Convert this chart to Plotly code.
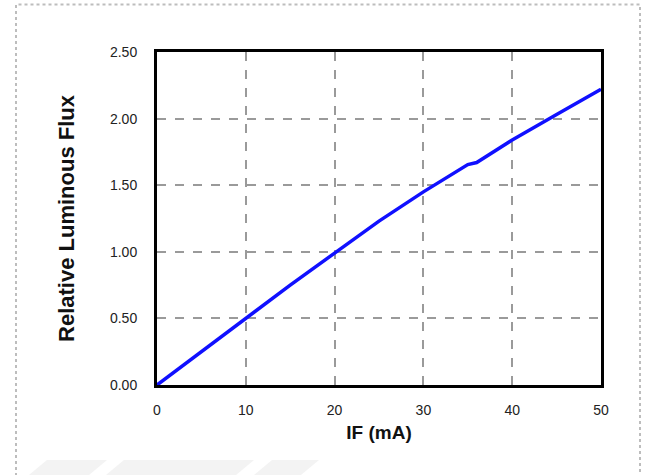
import plotly.graph_objects as go

# Forward current (mA) vs relative luminous flux
if_ma = [0, 5, 10, 15, 20, 25, 30, 35, 36, 40, 45, 50]
rel_flux = [0.0, 0.25, 0.50, 0.75, 0.99, 1.23, 1.45, 1.655, 1.67, 1.84, 2.03, 2.22]

x_ticks = [0, 10, 20, 30, 40, 50]
y_ticks = [0.0, 0.5, 1.0, 1.5, 2.0, 2.5]
y_tick_text = ["0.00", "0.50", "1.00", "1.50", "2.00", "2.50"]

W, H = 645, 475
L, R, T, B = 157, 44, 52, 90
pw, ph = W - L - R, H - T - B


def px(x):
    return (x - L) / pw


def py(y):
    return (H - B - y) / ph


fig = go.Figure()
fig.add_trace(go.Scatter(
    x=if_ma, y=rel_flux, mode="lines",
    line=dict(color="#1010ff", width=3.5),
    hoverinfo="skip", showlegend=False,
))

sans = "Liberation Sans, Arial, sans-serif"
tick_font = dict(family=sans, size=14, color="#222222")
xtitle_font = dict(family=sans, size=19, color="#111111")
ytitle_font = dict(family=sans, size=22, color="#111111")

fig.update_xaxes(
    range=[0, 50], tickvals=x_ticks, ticks="", ticklabelstandoff=10,
    showline=True, linecolor="black", linewidth=3, mirror=True,
    showgrid=True, gridcolor="#9a9a9a", gridwidth=1.5, griddash="dash",
    zeroline=False, tickfont=tick_font,
    title=dict(text="<b>IF (mA)</b>", font=xtitle_font, standoff=9),
)
fig.update_yaxes(
    range=[0, 2.5], tickvals=y_ticks, ticktext=y_tick_text, ticks="",
    ticklabelstandoff=14,
    showline=True, linecolor="black", linewidth=3, mirror=True,
    showgrid=True, gridcolor="#9a9a9a", gridwidth=1.5, griddash="dash",
    zeroline=False, tickfont=tick_font,
    title=dict(text="<b>Relative Luminous Flux</b>", font=ytitle_font, standoff=30),
)

shapes = []
# faint background emblem below the chart
for x0, x1 in [(33, 93), (110, 240), (258, 305)]:
    shapes.append(dict(
        type="path", xref="paper", yref="paper", layer="below",
        path=(f"M {px(x0 + 14)} {py(460)} L {px(x1 + 14)} {py(460)} "
              f"L {px(x1 - 10)} {py(480)} L {px(x0 - 10)} {py(480)} Z"),
        fillcolor="#f3f3f3", line=dict(width=0),
    ))
# dotted frame around the figure
shapes.append(dict(
    type="rect", xref="paper", yref="paper", layer="below",
    x0=px(16), x1=px(640), y0=py(490), y1=py(4.5),
    line=dict(color="#bdbdbd", width=2, dash="dot"),
))

fig.update_layout(
    width=W, height=H,
    margin=dict(l=L, r=R, t=T, b=B),
    paper_bgcolor="white", plot_bgcolor="white",
    shapes=shapes,
)

fig.write_html("out.html")
